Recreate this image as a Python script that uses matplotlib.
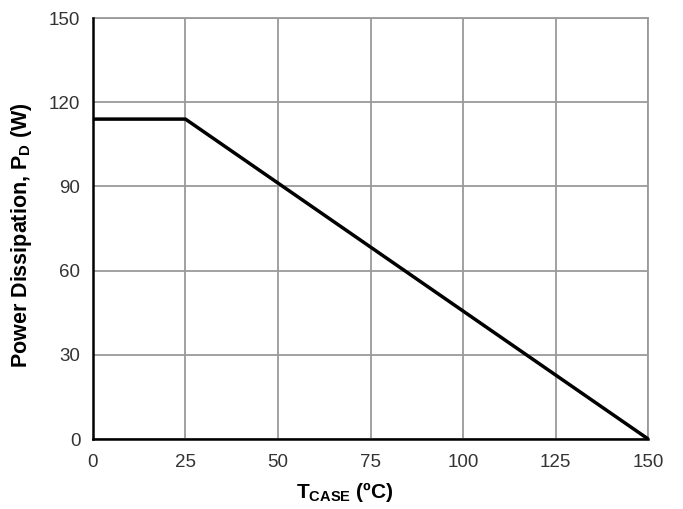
import matplotlib
matplotlib.use("Agg")
import matplotlib.pyplot as plt

t_case = [0, 25, 150]
power = [114, 114, 0]
x_ticks = [0, 25, 50, 75, 100, 125, 150]
y_ticks = [0, 30, 60, 90, 120, 150]

plt.rcParams['font.family'] = ['Liberation Sans', 'DejaVu Sans']
plt.rcParams['mathtext.fontset'] = 'custom'
plt.rcParams['mathtext.rm'] = 'Liberation Sans'
plt.rcParams['mathtext.bf'] = 'Liberation Sans:bold'
plt.rcParams['mathtext.it'] = 'Liberation Sans:italic'

fig = plt.figure(figsize=(6.83, 5.09), dpi=100)
ax = fig.add_axes([0.136, 0.1375, 0.813, 0.827])
ax.set_xlim(0, 150)
ax.set_ylim(0, 150)
ax.set_xticks(x_ticks)
ax.set_yticks(y_ticks)
ax.grid(True, color='#9a9a9a', linewidth=1.3)
ax.set_axisbelow(True)
ax.plot(t_case, power, color='black', linewidth=2.5, solid_capstyle='butt', clip_on=False, zorder=5)
for s in ['top', 'right']:
    ax.spines[s].set_color('#9a9a9a')
    ax.spines[s].set_linewidth(1.3)
for s in ['left', 'bottom']:
    ax.spines[s].set_color('black')
    ax.spines[s].set_linewidth(1.8)
    ax.spines[s].set_zorder(6)
ax.tick_params(length=0, labelsize=13.5, labelcolor='#333333')
ax.tick_params(axis='x', pad=11)
ax.tick_params(axis='y', pad=9)
ax.set_xlabel(r'T$_{\mathbf{CASE}}$ (ºC)', fontsize=15, fontweight='bold')
ax.set_ylabel(r'Power Dissipation, P$_{\mathbf{D}}$ (W)', fontsize=15.5, fontweight='bold')
ax.xaxis.set_label_coords(0.454, -0.097)
ax.yaxis.set_label_coords(-0.106, 0.485)
fig.savefig('out.png', dpi=100)
